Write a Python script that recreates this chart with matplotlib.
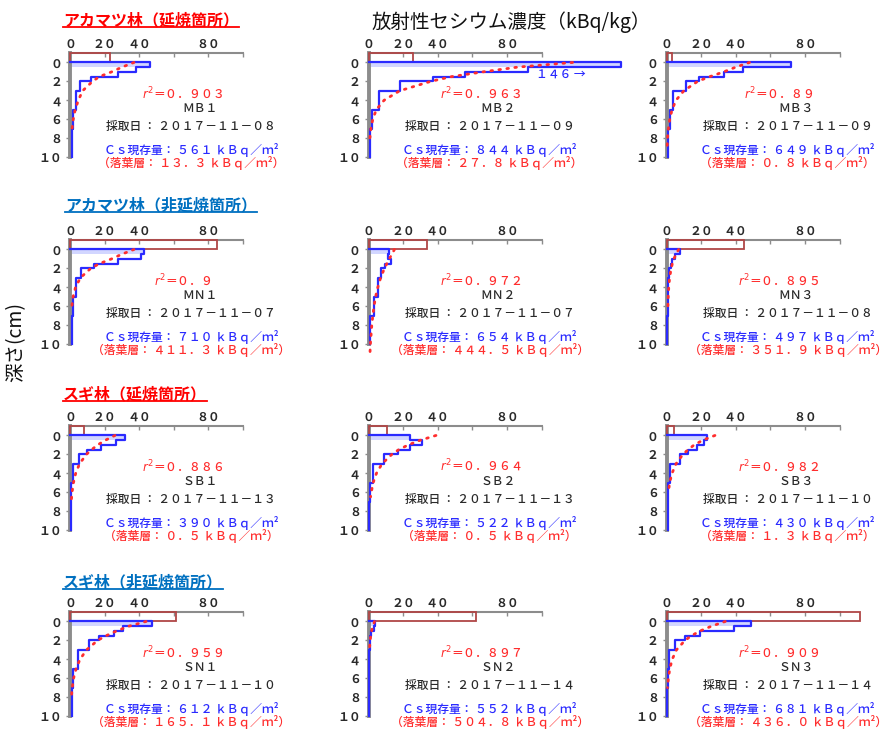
import matplotlib
matplotlib.use('Agg')
import matplotlib.pyplot as plt
from matplotlib.patches import Rectangle
from matplotlib.lines import Line2D

plt.rcParams['font.family'] = ['Noto Sans CJK JP', 'DejaVu Sans']
plt.rcParams['mathtext.fontset'] = 'dejavusans'

# ---- data ----
group_titles = ['アカマツ林（延焼箇所）', 'アカマツ林（非延焼箇所）',
                'スギ林（延焼箇所）', 'スギ林（非延焼箇所）']
group_colors = ['#ff0000', '#0070c0', '#ff0000', '#0070c0']

site_ids = ['MB1', 'MB2', 'MB3', 'MN1', 'MN2', 'MN3',
            'SB1', 'SB2', 'SB3', 'SN1', 'SN2', 'SN3']
sample_dates = ['2017-11-08', '2017-11-09', '2017-11-09',
                '2017-11-07', '2017-11-07', '2017-11-08',
                '2017-11-13', '2017-11-13', '2017-11-10',
                '2017-11-10', '2017-11-14', '2017-11-14']
r2_values = [0.903, 0.963, 0.89, 0.9, 0.972, 0.895,
             0.886, 0.964, 0.982, 0.959, 0.897, 0.909]
cs_inventory = [561, 844, 649, 710, 654, 497, 390, 522, 430, 612, 552, 681]
litter_inventory = [13.3, 27.8, 0.8, 411.3, 444.5, 351.9,
                    0.5, 0.5, 1.3, 165.1, 504.8, 436.0]

# litter layer concentration (kBq/kg), drawn between depth -1 and 0
litter_conc = [23, 26, 3, 85, 34, 45, 8.3, 10.7, 4.3, 61, 62, 112]

# soil layers (cm) and concentrations (kBq/kg)
layer_depths = [0, 0.5, 1, 1.5, 2, 3, 5, 7, 10]
soil_conc = [
    [46, 38, 28, 12, 5.5, 3.5, 2, 1],
    [146, 92, 56, 37, 18, 6, 2, 0.6],
    [72, 44, 33, 19, 11, 3.5, 2, 1],
    [43, 41, 28, 14, 6.5, 3.5, 1.5, 1],
    [12, 11, 13, 9.3, 7.4, 5.4, 3, 1],
    [8, 5, 3, 2.5, 1.6, 1, 0.6, 0.4],
    [32, 26.6, 18, 10, 5, 2, 0.8, 0.4],
    [24, 31, 24, 17, 9, 2.5, 0.8, 0.4],
    [23.4, 21.4, 17.5, 12.7, 7.8, 2.3, 1, 0.6],
    [47.5, 30.5, 25.7, 17, 11.2, 4.4, 1.9, 1],
    [4, 3, 1.6, 1, 0.6, 0.3, 0.3, 0.3],
    [49, 39, 19.5, 10.7, 5, 1.6, 0.6, 0.4],
]

# exponential fit curves (depth cm, kBq/kg)
fit_depths = [
    [0, 0.5, 1, 1.5, 2, 3, 4, 5, 6, 7, 7.5],
    [0, 0.5, 1, 1.5, 2, 3, 4, 5, 6, 7, 8],
    [0, 0.5, 1, 1.5, 2, 3, 4, 5, 6, 7, 8, 9],
    [0, 0.5, 1, 1.5, 2, 3, 4, 5, 6, 6.5],
    [0, 1, 2, 3, 4, 5, 6, 7, 8, 9, 10, 10.8],
    [0, 0.5, 1, 1.5, 2, 3, 4, 5, 6],
    [0, 0.5, 1, 1.5, 2, 3, 4, 5, 6, 7],
    [0, 0.5, 1, 1.5, 2, 3, 4, 5, 6, 6.5],
    [0, 0.5, 1, 1.5, 2, 3, 4, 5, 6],
    [0, 0.5, 1, 1.5, 2, 3, 4, 5, 6, 7, 8],
    [0, 0.5, 1, 1.5, 2, 3],
    [0, 0.5, 1, 1.5, 2, 3, 4, 5, 6, 7],
]
fit_conc = [
    [37, 30, 24, 17, 13, 7.3, 4.8, 3, 1.9, 1.2, 1],
    [118, 86, 66, 48, 36, 18, 9, 4.5, 2.5, 1.4, 0.8],
    [48, 40, 33, 25, 18, 10, 5.5, 3.2, 1.9, 1.1, 0.6, 0.4],
    [37, 30, 24, 17, 12, 6, 3.2, 1.8, 1.1, 0.9],
    [15, 12, 9.2, 7, 5.4, 4.1, 3.2, 2.5, 1.9, 1.5, 1.1, 0.9],
    [7, 5.5, 4.3, 3.4, 2.7, 1.8, 1.3, 1, 0.8],
    [26, 20.5, 16, 12.5, 9.5, 5.5, 3.3, 2, 1.2, 0.7],
    [39, 30, 23, 17.5, 13.5, 7.8, 4.6, 2.7, 1.6, 1.2],
    [28, 21, 16, 12.5, 9.5, 5.5, 3.2, 1.8, 1.1],
    [44, 34, 27, 21, 16, 9.6, 5.8, 3.5, 2.1, 1.3, 0.8],
    [3.5, 2.5, 1.8, 1.3, 1, 0.5],
    [34, 26, 19.5, 14.5, 10.7, 5.8, 3.3, 1.9, 1.1, 0.6],
]

BLUE = '#2a2aff'
LIGHT_BLUE = '#d2d6ff'
RED = '#ff2e2e'
BROWN = '#b04646'
GRAY = '#8c8c8c'
INK = '#2a2a2a'

W, H = 894, 730
col_x = [70, 368.5, 666.5]
row_top = [53, 240, 426, 612]
ax_w, ax_h = 173, 104


def zen(s):
    # half-width ASCII -> full-width forms
    return ''.join(chr(ord(c) + 0xFEE0) if '!' <= c <= '~' else c for c in s)


def draw_panel(ax, i):
    ax.set_xlim(0, 100)
    ax.set_ylim(10, -1)
    for s in ['right', 'bottom']:
        ax.spines[s].set_visible(False)
    ax.spines['top'].set_color(GRAY)
    ax.spines['top'].set_linewidth(1.5)
    ax.spines['left'].set_color(GRAY)
    ax.spines['left'].set_linewidth(2.8)

    ax.xaxis.tick_top()
    ax.set_xticks([0, 20, 40, 60, 80, 100])
    ax.set_xticklabels([zen('0'), zen('20'), zen('40'), '', zen('80'), ''])
    ax.set_yticks([0, 2, 4, 6, 8, 10])
    ax.set_yticklabels([zen(str(v)) for v in [0, 2, 4, 6, 8, 10]])
    ax.tick_params(axis='x', direction='in', length=3, width=1, color=GRAY,
                   pad=1.5, labelsize=8.6, labelcolor=INK)
    ax.tick_params(axis='y', direction='out', length=3, width=1, color=GRAY,
                   pad=2.5, labelsize=8.6, labelcolor=INK)
    for lab in ax.get_xticklabels() + ax.get_yticklabels():
        lab.set_fontweight('bold')

    # litter layer
    ax.add_patch(Rectangle((0, -1), litter_conc[i], 1, fill=False,
                           edgecolor=BROWN, lw=1.3, clip_on=False, zorder=3))

    # soil profile
    vals = soil_conc[i]
    ax.fill_betweenx([0, 0.5], 0, vals[0], color=LIGHT_BLUE, lw=0,
                     clip_on=False, zorder=2)
    xs, ys = [0], [0]
    for k, v in enumerate(vals):
        xs += [v, v]
        ys += [layer_depths[k], layer_depths[k + 1]]
    ax.plot(xs, ys, color=BLUE, lw=1.6, clip_on=False, zorder=4)

    # fit curve
    ax.plot(fit_conc[i], fit_depths[i], color=RED, lw=2.0,
            ls=(0, (0.6, 2.3)), dash_capstyle='round', clip_on=False, zorder=5)

    kw = dict(fontsize=8.5, fontweight='medium', ha='center', va='baseline',
              clip_on=False)
    ax.text(65, 3.8, '$r^2$' + zen('=' + str(r2_values[i])), color=RED, **kw)
    ax.text(75, 5.25, zen(site_ids[i]), color=INK, **kw)
    ax.text(70, 7.1, zen('採取日 : ' + sample_dates[i]), color=INK, **kw)
    ax.text(70, 9.65, zen('Cs現存量: %d kBq/m' % cs_inventory[i]) + '²',
            color=BLUE, **kw)
    ax.text(70, 11.1, zen('(落葉層: %.1f kBq/m' % litter_inventory[i]) + '²' + zen(')'),
            color=RED, **kw)

    if vals[0] > 100:
        ax.text(97, 1.25, zen('%d' % vals[0]) + ' →', color=BLUE, fontsize=8.5,
                fontweight='medium', ha='left', va='center', clip_on=False)


fig = plt.figure(figsize=(W / 100, H / 100), dpi=100)

for r in range(4):
    for c in range(3):
        i = r * 3 + c
        ax = fig.add_axes([col_x[c] / W, 1 - (row_top[r] + ax_h) / H, ax_w / W, ax_h / H])
        draw_panel(ax, i)

# group headings
title_pos = [(63, 20), (65, 205), (63, 394), (63, 582)]
titles = []
for t, col, (px, py) in zip(group_titles, group_colors, title_pos):
    titles.append(fig.text(px / W, 1 - py / H, t, color=col, fontsize=11.5,
                           fontweight='bold', ha='left', va='center'))

fig.text(372 / W, 1 - 22 / H, '放射性セシウム濃度（kBq/kg）', fontsize=14,
         ha='left', va='center', color='#111111')
fig.text(16 / W, 1 - 342 / H, '深さ(cm)', fontsize=14, rotation=90,
         ha='center', va='center', color='#111111')

# underline the headings
fig.canvas.draw()
rend = fig.canvas.get_renderer()
for t, col in zip(titles, group_colors):
    bb = t.get_window_extent(rend)
    y = (bb.y0 + 1) / H
    fig.add_artist(Line2D([bb.x0 / W, bb.x1 / W], [y, y], color=col, lw=1.3))

fig.savefig('out.png', dpi=100)
